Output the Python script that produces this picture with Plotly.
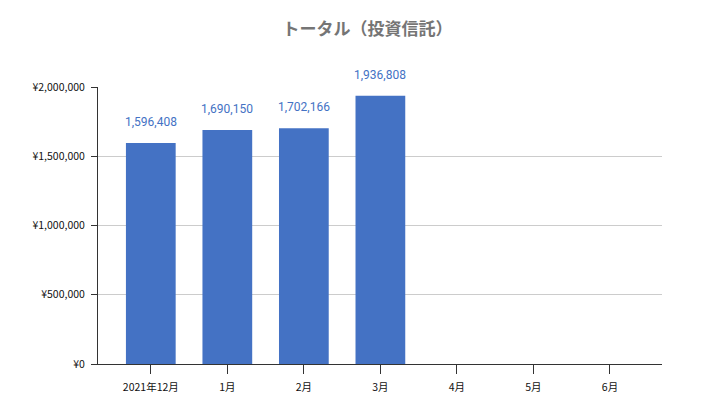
import plotly.graph_objects as go

months = ["2021年12月", "1月", "2月", "3月", "4月", "5月", "6月"]
totals = [1596408, 1690150, 1702166, 1936808, None, None, None]
y_ticks = [0, 500000, 1000000, 1500000, 2000000]
y_tick_labels = ["¥0", "¥500,000", "¥1,000,000", "¥1,500,000", "¥2,000,000"]

xs = list(range(len(months)))

fig = go.Figure()
fig.add_trace(go.Bar(
    x=xs,
    y=totals,
    marker=dict(color="#4472C4", line=dict(width=0)),
    width=0.65,
))

# data labels above bars
for x, v in zip(xs, totals):
    if v is None:
        continue
    fig.add_annotation(
        x=x, y=v, text=f"{v:,}", showarrow=False,
        yanchor="bottom", yshift=12,
        font=dict(color="#4472C4", size=12, family="Roboto, sans-serif"),
    )

fig.update_layout(
    width=719, height=408,
    margin=dict(l=90, r=65, t=79, b=52),
    paper_bgcolor="white", plot_bgcolor="white",
    font=dict(family="Noto Sans CJK JP, Roboto, sans-serif", size=10.5, color="#111111"),
    title=dict(text="<b>トータル（投資信託）</b>", x=0.5, xanchor="center", y=0.962,
               font=dict(size=17, color="#757575")),
    showlegend=False,
    xaxis=dict(
        range=[-0.69, 6.68],
        tickmode="array", tickvals=xs, ticktext=months,
        ticks="outside", ticklen=9, tickcolor="#333333",
        ticklabelstandoff=4,
        showline=True, linecolor="#333333", linewidth=1,
        showgrid=False, zeroline=False,
    ),
    yaxis=dict(
        range=[0, 2000000],
        tickmode="array", tickvals=y_ticks, ticktext=y_tick_labels,
        ticks="outside", ticklen=6, tickcolor="#333333",
        ticklabelstandoff=4,
        showline=True, linecolor="#333333", linewidth=1,
        showgrid=True, gridcolor="#cccccc", zeroline=False,
    ),
)

fig.write_html("out.html")
